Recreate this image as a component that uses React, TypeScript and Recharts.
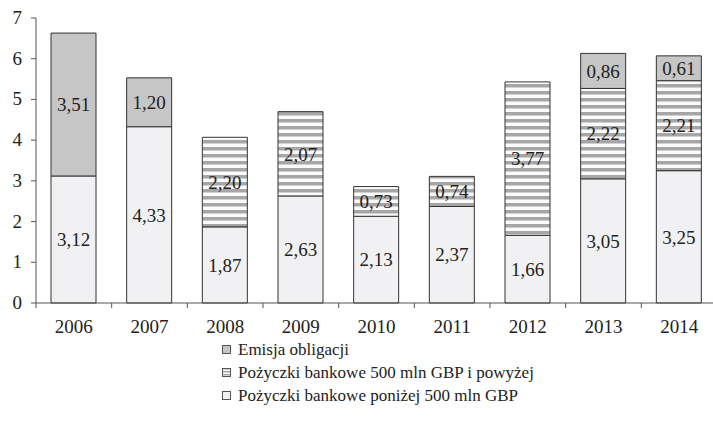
import React from 'react';
import { BarChart, Bar, XAxis, YAxis, Legend, LabelList } from 'recharts';

const years = ['2006', '2007', '2008', '2009', '2010', '2011', '2012', '2013', '2014'];
const below500 = [3.12, 4.33, 1.87, 2.63, 2.13, 2.37, 1.66, 3.05, 3.25];
const above500 = [null, null, 2.2, 2.07, 0.73, 0.74, 3.77, 2.22, 2.21];
const bonds = [3.51, 1.2, null, null, null, null, null, 0.86, 0.61];
const yTicks = [0, 1, 2, 3, 4, 5, 6, 7];

const seriesNames = {
  bonds: 'Emisja obligacji',
  above: 'Pożyczki bankowe 500 mln GBP i powyżej',
  below: 'Pożyczki bankowe poniżej 500 mln GBP',
};

const data = years.map((year, i) => ({
  year,
  below: below500[i],
  above: above500[i],
  bonds: bonds[i],
}));

const FONT = '"Liberation Serif", serif';
const EDGE = '#333';
const AXIS = '#555';
const LIGHT = '#f1f1f3';
const GREY = '#c6c6c6';
const STRIPE = '#a6a6a6';

const fmt = (v: any) => (v == null || v === 0 ? '' : Number(v).toFixed(2).replace('.', ','));

// year label plus a small tick on the left edge of each category
const YearTick = (props: any) => {
  const { x, y, payload } = props;
  const off = payload?.offset ?? 0;
  return (
    <g>
      <line x1={x - off} y1={y - 5} x2={x - off} y2={y} stroke={AXIS} />
      <text x={x} y={y + 25} textAnchor="middle" style={{ fontFamily: FONT, fontSize: 19 }} fill="#222">
        {payload.value}
      </text>
    </g>
  );
};

const ValueTick = (props: any) => {
  const { x, y, payload } = props;
  return (
    <text x={x} y={y} dy={6} textAnchor="end" style={{ fontFamily: FONT, fontSize: 19 }} fill="#222">
      {payload.value}
    </text>
  );
};

const legendRows = [
  { key: 'bonds', fill: GREY },
  { key: 'above', fill: 'url(#legendStripes)' },
  { key: 'below', fill: LIGHT },
];

const LegendBox = () => (
  <div style={{ fontFamily: FONT, fontSize: 17, color: '#222', lineHeight: '23px' }}>
    <svg width={0} height={0} style={{ position: 'absolute' }}>
      <defs>
        <pattern id="legendStripes" patternUnits="userSpaceOnUse" width={4} height={3}>
          <rect width={4} height={3} fill="#fff" />
          <rect width={4} height={1.5} fill={STRIPE} />
        </pattern>
      </defs>
    </svg>
    {legendRows.map((r) => (
      <div key={r.key} style={{ display: 'flex', alignItems: 'center', whiteSpace: 'nowrap' }}>
        <svg width={9} height={9} style={{ marginRight: 7 }}>
          <rect x={0.5} y={0.5} width={8} height={8} fill={r.fill} stroke={AXIS} />
        </svg>
        {seriesNames[r.key as keyof typeof seriesNames]}
      </div>
    ))}
  </div>
);

const labelStyle = { fontFamily: FONT, fontSize: 19, fill: '#222' };

export default function App() {
  return (
    <div style={{ position: 'absolute', left: 0, top: 0, width: 713, height: 426, overflow: 'hidden', background: '#fff', fontFamily: FONT }}>
      <BarChart
        width={717}
        height={426}
        data={data}
        margin={{ top: 18, right: 0, left: 0, bottom: 93 }}
        barSize={45}
        style={{ fontFamily: FONT }}
      >
        <defs>
          <pattern id="stripes" patternUnits="userSpaceOnUse" width={8} height={7}>
            <rect width={8} height={7} fill="#fbfbfb" />
            <rect width={8} height={3.5} fill={STRIPE} />
          </pattern>
        </defs>
        <XAxis
          dataKey="year"
          interval={0}
          height={30}
          tickLine={false}
          tickSize={5}
          tickMargin={0}
          stroke={AXIS}
          tick={<YearTick />}
        />
        <YAxis
          width={36}
          domain={[0, 7]}
          ticks={yTicks}
          tickSize={5}
          tickMargin={9}
          stroke={AXIS}
          tick={<ValueTick />}
        />
        <Legend
          layout="horizontal"
          verticalAlign="middle"
          align="center"
          wrapperStyle={{ left: 222, top: 338, width: 'auto' }}
          content={<LegendBox />}
        />
        <Bar dataKey="below" name={seriesNames.below} stackId="a" fill={LIGHT} stroke={EDGE} isAnimationActive={false}>
          <LabelList dataKey="below" position="center" formatter={fmt} style={labelStyle} />
        </Bar>
        <Bar dataKey="above" name={seriesNames.above} stackId="a" fill="url(#stripes)" stroke={EDGE} isAnimationActive={false}>
          <LabelList dataKey="above" position="center" formatter={fmt} style={labelStyle} />
        </Bar>
        <Bar dataKey="bonds" name={seriesNames.bonds} stackId="a" fill={GREY} stroke={EDGE} isAnimationActive={false}>
          <LabelList dataKey="bonds" position="center" formatter={fmt} style={labelStyle} />
        </Bar>
      </BarChart>
    </div>
  );
}
